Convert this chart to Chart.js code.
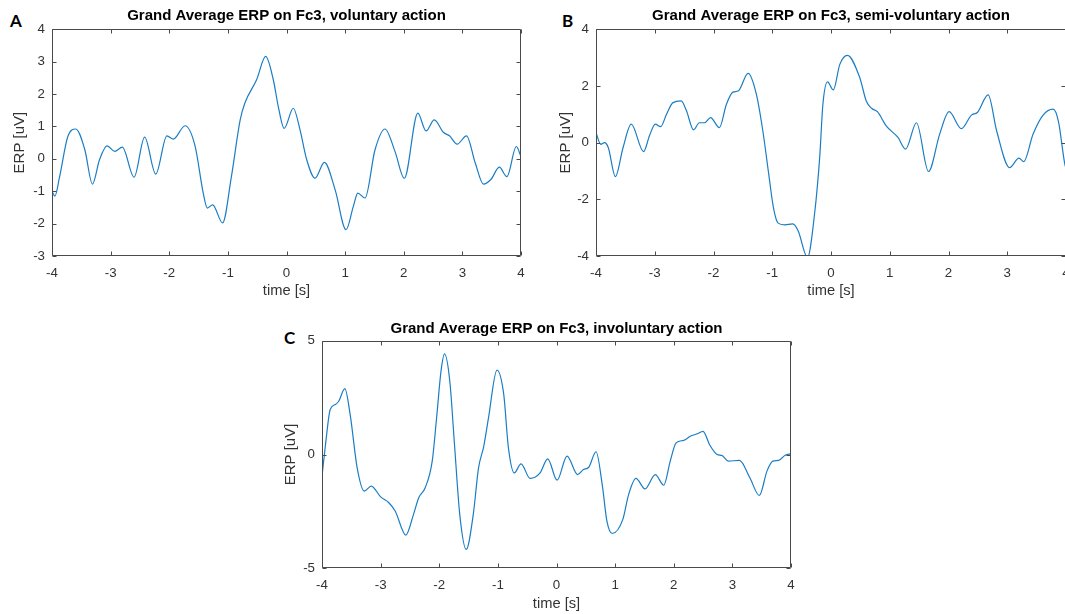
<!DOCTYPE html>
<html>
<head>
<meta charset="utf-8">
<script src="https://cdn.jsdelivr.net/npm/chart.js@4.4.1/dist/chart.umd.min.js"></script>
<style>
    html, body {
        margin: 0;
        width: 1065px;
        height: 614px;
        overflow: hidden;
        background: #fff;
    }
    canvas { position: absolute; }
    .letter {
        position: absolute;
        font: bold 17px Lato, 'Open Sans', sans-serif;
        line-height: 1;
        color: #000;
    }
</style>
</head>
<body>
<div class="letter" style="left:10px; top:12px">A</div>
<div class="letter" style="left:562px; top:12px">B</div>
<div class="letter" style="left:284px; top:329px">C</div>
<canvas id="erpA" width="573" height="306" style="left:0px; top:0px"></canvas>
<canvas id="erpB" width="574" height="306" style="left:544px; top:0px"></canvas>
<canvas id="erpC" width="573" height="302" style="left:270px; top:312px"></canvas>
<script>
// Grand average ERP on Fc3, sampled at the turning points of each trace
const timeA = [-4.00, -3.95, -3.87, -3.73, -3.595, -3.44, -3.31, -3.19, -3.06, -2.93, -2.80, -2.60, -2.42, -2.23,
    -2.04, -1.93, -1.73, -1.56, -1.42, -1.35, -1.26, -1.09, -0.94, -0.79, -0.71, -0.51, -0.355, -0.225, -0.14,
    -0.04, 0.116, 0.23, 0.345, 0.487, 0.646, 0.83, 1.016, 1.14, 1.216, 1.34, 1.51, 1.68, 1.85, 2.01, 2.24, 2.38,
    2.52, 2.68, 2.78, 2.91, 3.07, 3.22, 3.36, 3.49, 3.63, 3.76, 3.92, 4.00]
const erpA = [-1.00, -1.15, -0.55, 0.69, 0.92, 0.28, -0.78, -0.03, 0.40, 0.23, 0.36, -0.57, 0.67, -0.47,
    0.71, 0.61, 1.02, 0.40, -1.06, -1.52, -1.42, -1.98, -0.55, 1.20, 1.72, 2.44, 3.16, 2.44, 1.61,
    0.94, 1.56, 0.90, -0.03, -0.60, -0.11, -0.96, -2.19, -1.47, -1.06, -1.21, 0.28, 0.92, 0.23, -0.60, 1.41, 0.86,
    1.20, 0.81, 0.71, 0.45, 0.71, -0.13, -0.78, -0.63, -0.26, -0.55, 0.38, 0.07]

const timeB = [-4.00, -3.92, -3.855, -3.79, -3.67, -3.54, -3.40, -3.19, -3.09, -2.99, -2.90, -2.80, -2.69, -2.55,
    -2.46, -2.34, -2.24, -2.15, -2.05, -1.90, -1.78, -1.67, -1.58, -1.41, -1.27, -1.16, -1.06, -0.98, -0.90,
    -0.79, -0.65, -0.56, -0.40, -0.28, -0.19, -0.14, -0.06, 0.04, 0.15, 0.28, 0.49, 0.60, 0.69, 0.79, 0.94, 1.14,
    1.27, 1.455, 1.66, 1.85, 2.01, 2.22, 2.39, 2.49, 2.675, 2.82, 3.04, 3.20, 3.28, 3.44, 3.61, 3.78, 3.87, 3.98, 4.00]
const erpB = [0.35, -0.06, 0.00, -0.18, -1.20, -0.18, 0.65, -0.32, 0.24, 0.65, 0.56, 1.00, 1.41, 1.47,
    1.12, 0.45, 0.70, 0.70, 0.88, 0.53, 1.35, 1.78, 1.82, 2.44, 1.70, 0.41, -1.11, -2.29, -2.84,
    -2.90, -2.87, -3.11, -4.05, -2.52, -0.45, 1.30, 2.14, 1.86, 2.76, 3.08, 2.29, 1.47, 1.21, 1.09, 0.59, 0.18,
    -0.23, 0.70, -1.02, 0.30, 1.09, 0.49, 0.97, 1.06, 1.68, 0.41, -0.88, -0.55, -0.67, 0.30, 0.97, 1.18, 0.76, -0.76, -0.90]

const timeC = [-4.00, -3.94, -3.86, -3.77, -3.715, -3.61, -3.52, -3.40, -3.28, -3.16, -3.00, -2.86, -2.75, -2.57,
    -2.44, -2.35, -2.24, -2.12, -2.04, -1.97, -1.91, -1.82, -1.74, -1.65, -1.54, -1.42, -1.33, -1.24, -1.16,
    -1.015, -0.90, -0.82, -0.72, -0.605, -0.45, -0.28, -0.15, 0.01, 0.18, 0.36, 0.46, 0.55, 0.675, 0.78, 0.86,
    0.95, 1.13, 1.23, 1.355, 1.51, 1.685, 1.83, 1.94, 2.04, 2.17, 2.28, 2.40, 2.50, 2.61, 2.74, 2.82, 2.93, 3.12,
    3.30, 3.46, 3.59, 3.69, 3.79, 3.90, 4.00]
const erpC = [-0.95, 0.44, 1.98, 2.20, 2.34, 2.89, 1.76, -0.59, -1.61, -1.39, -1.86, -2.12, -2.49, -3.54,
    -2.64, -1.90, -1.46, -0.29, 1.76, 3.66, 4.42, 3.22, 0.44, -2.64, -4.17, -2.64, -0.59, 0.37, 1.61,
    3.71, 2.64, 0.29, -0.81, -0.41, -1.05, -0.81, -0.19, -1.13, -0.07, -0.88, -0.66, -0.56, 0.12, -1.32, -2.93,
    -3.47, -2.86, -1.76, -1.05, -1.51, -0.88, -1.35, -0.29, 0.51, 0.62, 0.80, 0.91, 1.02, 0.44, 0.00, -0.04, -0.29, -0.26,
    -1.03, -1.80, -0.73, -0.29, -0.26, -0.03, 0.03]

const timeTicks = [-4, -3, -2, -1, 0, 1, 2, 3, 4]
const erpTicksA = [-3, -2, -1, 0, 1, 2, 3, 4]
const erpTicksB = [-4, -2, 0, 2, 4]
const erpTicksC = [-5, 0, 5]

const FONT = "'Liberation Sans', Arial, Helvetica, sans-serif"
const LINE_COLOR = '#1a7dc4'
const AXIS_COLOR = '#4a4a4a'
const TEXT_COLOR = '#333'
const TICK_LEN = 4
const SIDE = 52   // room for the y axis on the left, mirrored on the right so titles centre over the plot

// MATLAB style box: frame around the plot area with inward ticks on all four sides
const boxPlugin = {
    id: 'matlabBox',
    afterDraw(chart) {
        const { ctx, chartArea: a, scales: { x, y } } = chart
        const l = Math.round(a.left) + 0.5
        const r = Math.round(a.right) - 0.5
        const t = Math.round(a.top) + 0.5
        const b = Math.round(a.bottom) - 0.5
        ctx.save()
        ctx.strokeStyle = AXIS_COLOR
        ctx.lineWidth = 1
        ctx.beginPath()
        ctx.rect(l, t, r - l, b - t)
        x.ticks.forEach(tick => {
            const px = Math.round(x.getPixelForValue(tick.value)) + 0.5
            ctx.moveTo(px, b); ctx.lineTo(px, b - TICK_LEN)
            ctx.moveTo(px, t); ctx.lineTo(px, t + TICK_LEN)
        })
        y.ticks.forEach(tick => {
            const py = Math.round(y.getPixelForValue(tick.value)) + 0.5
            ctx.moveTo(l, py); ctx.lineTo(l + TICK_LEN, py)
            ctx.moveTo(r, py); ctx.lineTo(r - TICK_LEN, py)
        })
        ctx.stroke()
        ctx.restore()
    }
}

function fixedTicks(values) {
    return scale => { scale.ticks = values.map(value => ({ value })) }
}

function erpPanel(id, opts) {
    const points = opts.time.map((t, i) => ({ x: t, y: opts.erp[i] }))
    return new Chart(document.getElementById(id), {
        type: 'line',
        data: {
            datasets: [{
                data: points,
                borderColor: LINE_COLOR,
                borderWidth: 1.2,
                pointRadius: 0,
                fill: false,
                cubicInterpolationMode: 'monotone',
                yAxisID: 'y'
            }]
        },
        options: {
            responsive: false,
            animation: false,
            devicePixelRatio: 1,
            layout: { padding: 0 },
            plugins: {
                legend: { display: false },
                tooltip: { enabled: false },
                title: {
                    display: true,
                    text: opts.title,
                    color: '#000',
                    font: { family: FONT, size: 15, weight: 'bold', lineHeight: 1.2 },
                    padding: opts.titlePad
                }
            },
            scales: {
                x: {
                    type: 'linear',
                    min: -4,
                    max: 4,
                    afterBuildTicks: fixedTicks(timeTicks),
                    afterFit: scale => { scale.height = opts.xHeight },
                    grid: { display: false, drawTicks: false },
                    border: { display: false },
                    ticks: { color: TEXT_COLOR, padding: 9, maxRotation: 0, font: { family: FONT, size: 13.3 } },
                    title: {
                        display: true,
                        text: 'time [s]',
                        color: TEXT_COLOR,
                        font: { family: FONT, size: 14.7, lineHeight: 1.2 },
                        padding: { top: 0, bottom: opts.xTitlePad }
                    }
                },
                y: {
                    position: 'left',
                    min: opts.yMin,
                    max: opts.yMax,
                    afterBuildTicks: fixedTicks(opts.yTicks),
                    afterFit: scale => { scale.width = SIDE },
                    grid: { display: false, drawTicks: false },
                    border: { display: false },
                    ticks: { color: TEXT_COLOR, padding: 7, font: { family: FONT, size: 13.3 } },
                    title: {
                        display: true,
                        text: 'ERP [uV]',
                        color: TEXT_COLOR,
                        font: { family: FONT, size: 15, lineHeight: 1.2 },
                        padding: { top: opts.yTitlePad, bottom: 0 }
                    }
                },
                // empty right margin, same width as the left axis
                yRight: {
                    position: 'right',
                    min: opts.yMin,
                    max: opts.yMax,
                    afterFit: scale => { scale.width = SIDE },
                    grid: { display: false, drawTicks: false },
                    border: { display: false },
                    ticks: { display: false }
                }
            }
        },
        plugins: [boxPlugin]
    })
}

erpPanel('erpA', {
    title: 'Grand Average ERP on Fc3, voluntary action',
    time: timeA, erp: erpA, yMin: -3, yMax: 4, yTicks: erpTicksA,
    titlePad: { top: 7.2, bottom: 4 }, xHeight: 50, xTitlePad: 6, yTitlePad: 11
})
erpPanel('erpB', {
    title: 'Grand Average ERP on Fc3, semi-voluntary action',
    time: timeB, erp: erpB, yMin: -4, yMax: 4, yTicks: erpTicksB,
    titlePad: { top: 7.2, bottom: 4 }, xHeight: 50, xTitlePad: 6, yTitlePad: 13
})
erpPanel('erpC', {
    title: 'Grand Average ERP on Fc3, involuntary action',
    time: timeC, erp: erpC, yMin: -5, yMax: 5, yTicks: erpTicksC,
    titlePad: { top: 7.4, bottom: 3.3 }, xHeight: 45.7, xTitlePad: 1.3, yTitlePad: 11.6
})
</script>
</body>
</html>
